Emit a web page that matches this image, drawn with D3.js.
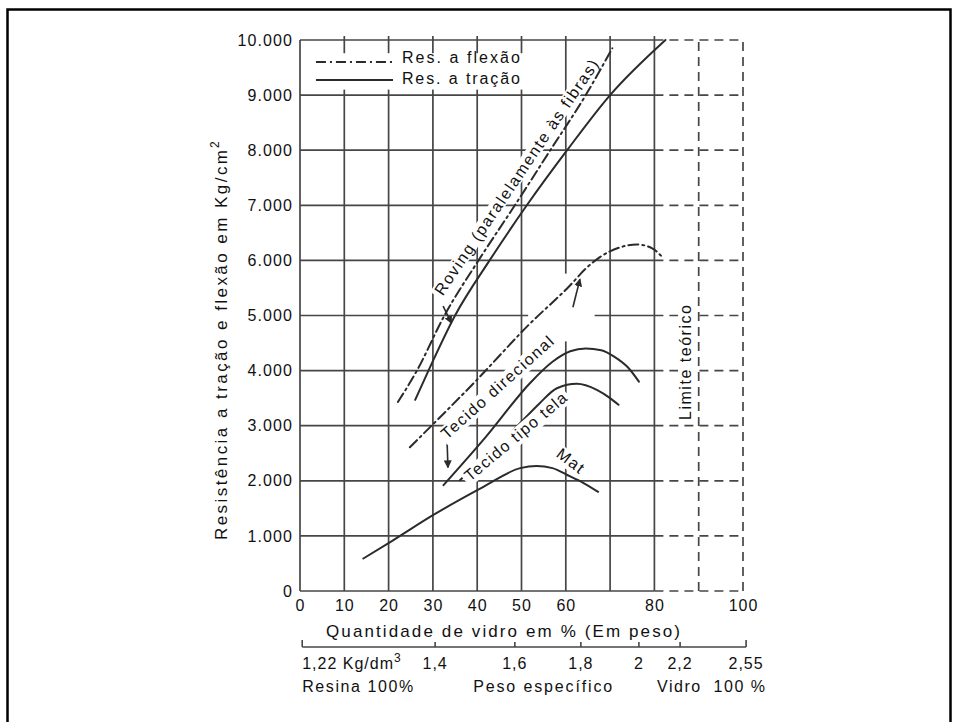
<!DOCTYPE html>
<html>
<head>
<meta charset="utf-8">
<script src="https://cdn.jsdelivr.net/npm/d3@7"></script>
<style>
  html, body { margin: 0; padding: 0; background: #fff; }
  svg { display: block; }
  text { font-family: Arial, "Liberation Sans", Helvetica, sans-serif; fill: #111; }
</style>
</head>
<body>
<svg id="chart" width="959" height="722"></svg>
<script>
// ---- Axis ticks -------------------------------------------------------
const glassTicks = [0, 10, 20, 30, 40, 50, 60, 70, 80, 90, 100];
const glassLabels = ["0", "10", "20", "30", "40", "50", "60", "", "80", "", "100"];
const strengthTicks = [0, 1000, 2000, 3000, 4000, 5000, 6000, 7000, 8000, 9000, 10000];
const strengthLabels = ["0", "1.000", "2.000", "3.000", "4.000", "5.000", "6.000", "7.000", "8.000", "9.000", "10.000"];

// Specific weight scale under the glass-content axis (glass % where each density falls)
const densityAtGlass = [0.5, 30.5, 48.5, 63.4, 76.5, 85.8, 100.7];
const densityLabels = ["1,22", "1,4", "1,6", "1,8", "2", "2,2", "2,55"];

// ---- Series: glass content (%) vs strength (kg/cm²) --------------------
const rovingTracaoX = [26, 29, 35, 42.8, 51.2, 60.3, 70, 82.5];
const rovingTracaoY = [3470, 4000, 5000, 6000, 7000, 8000, 9000, 10000];

const rovingFlexaoX = [22.1, 26.4, 32.6, 40.3, 48.5, 56.5, 64.5, 70.5];
const rovingFlexaoY = [3430, 4000, 5000, 6000, 7000, 8000, 9000, 9850];

const direcionalFlexaoX = [24.8, 39.9, 51.5, 61, 64.5, 67.7, 72, 76, 79.5, 82];
const direcionalFlexaoY = [2610, 3830, 4820, 5550, 5850, 6060, 6230, 6290, 6220, 6040];

const direcionalTracaoX = [32.4, 42, 52, 57, 61, 64.5, 68, 71, 74, 76.5];
const direcionalTracaoY = [1920, 2800, 3780, 4160, 4350, 4400, 4370, 4250, 4060, 3800];

const telaTracaoX = [36.1, 42, 48.9, 54, 58, 62.5, 67, 70, 71.9];
const telaTracaoY = [2010, 2450, 2980, 3400, 3680, 3760, 3650, 3500, 3380];

const matTracaoX = [14.3, 21.1, 30.1, 41.4, 49.7, 53.4, 57, 60.2, 64, 67.3];
const matTracaoY = [590, 925, 1380, 1890, 2230, 2270, 2230, 2110, 1960, 1800];

const seriesList = [
  { xs: rovingFlexaoX, ys: rovingFlexaoY, flex: true },
  { xs: rovingTracaoX, ys: rovingTracaoY, flex: false },
  { xs: direcionalFlexaoX, ys: direcionalFlexaoY, flex: true },
  { xs: direcionalTracaoX, ys: direcionalTracaoY, flex: false },
  { xs: telaTracaoX, ys: telaTracaoY, flex: false },
  { xs: matTracaoX, ys: matTracaoY, flex: false }
];

// ---- Setup ------------------------------------------------------------
const svg = d3.select("#chart");
const x = d3.scaleLinear().domain([0, 100]).range([300, 743]);
const y = d3.scaleLinear().domain([0, 10000]).range([591, 40]);

const INK = "#111";
const GRID = "#464646";
const CURVE = "#2b2b2b";
const DASHDOT = "10,4,2,4";

// Page frame
svg.append("path")
  .attr("d", "M7.5,722 V9.5 H950.5 V722")
  .attr("fill", "none").attr("stroke", "#000").attr("stroke-width", 2.5);

// ---- Grid ---------------------------------------------------------------
const grid = svg.append("g").attr("stroke", GRID).attr("stroke-width", 1.7).attr("fill", "none");

// vertical lines: solid up to 80 %, dashed beyond (theoretical limit zone)
glassTicks.forEach(t => {
  grid.append("line")
    .attr("x1", x(t)).attr("x2", x(t))
    .attr("y1", y(0)).attr("y2", y(10000))
    .attr("stroke-dasharray", t > 80 ? "9,6" : null);
  if (t > 0 && t <= 80) {
    grid.append("line")
      .attr("x1", x(t)).attr("x2", x(t))
      .attr("y1", y(10000)).attr("y2", y(10000) - 4);
  }
});
// horizontal lines
strengthTicks.forEach(t => {
  grid.append("line")
    .attr("x1", x(0)).attr("x2", x(80))
    .attr("y1", y(t)).attr("y2", y(t));
  grid.append("line")
    .attr("x1", x(80)).attr("x2", x(100))
    .attr("y1", y(t)).attr("y2", y(t))
    .attr("stroke-dasharray", "9,6");
});

// blank patch in the grid around the directional fabric flexural branch
svg.append("rect")
  .attr("x", x(51.5)).attr("y", y(5760))
  .attr("width", x(66.5) - x(51.5)).attr("height", y(4530) - y(5760))
  .attr("fill", "#fff");

// ---- Legend -----------------------------------------------------------
svg.append("rect")
  .attr("x", x(1.8)).attr("y", y(9760))
  .attr("width", x(52.2) - x(1.8)).attr("height", y(9100) - y(9760))
  .attr("fill", "#fff");
const legendRows = [
  { label: "Res. a flexão", flex: true, v: 9600, base: 9575 },
  { label: "Res. a tração", flex: false, v: 9275, base: 9210 }
];
legendRows.forEach(r => {
  svg.append("line")
    .attr("x1", x(3.6)).attr("x2", x(21))
    .attr("y1", y(r.v)).attr("y2", y(r.v))
    .attr("stroke", CURVE).attr("stroke-width", 2)
    .attr("stroke-dasharray", r.flex ? DASHDOT : null);
  svg.append("text")
    .attr("x", x(23)).attr("y", y(r.base))
    .attr("font-size", 16)
    .attr("textLength", 118).attr("lengthAdjust", "spacing")
    .text(r.label);
});

// ---- Curves -------------------------------------------------------------
const line = d3.line()
  .x(d => x(d[0])).y(d => y(d[1]))
  .curve(d3.curveMonotoneX);

seriesList.forEach(s => {
  const pts = s.xs.map((v, i) => [v, s.ys[i]]);
  svg.append("path")
    .attr("d", line(pts))
    .attr("fill", "none")
    .attr("stroke", CURVE)
    .attr("stroke-width", 2)
    .attr("stroke-linecap", "round")
    .attr("stroke-dasharray", s.flex ? DASHDOT : null);
});

// small pointer arrows from labels to curves
svg.append("defs").append("marker")
  .attr("id", "head").attr("viewBox", "0 0 10 10")
  .attr("refX", 9).attr("refY", 5)
  .attr("markerWidth", 5).attr("markerHeight", 6)
  .attr("orient", "auto")
  .append("path").attr("d", "M0,0 L10,5 L0,10 Z").attr("fill", CURVE);

const pointers = [
  [[32.3, 5170], [34.2, 4860]],
  [[33.2, 2720], [33.4, 2240]],
  [[61.6, 5150], [63.2, 5660]]
];
pointers.forEach(p => {
  svg.append("line")
    .attr("x1", x(p[0][0])).attr("y1", y(p[0][1]))
    .attr("x2", x(p[1][0])).attr("y2", y(p[1][1]))
    .attr("stroke", CURVE).attr("stroke-width", 1.6)
    .attr("marker-end", "url(#head)");
});

// ---- Curve labels (rotated along the curves) ----------------------------
function rotatedLabel(str, gx, gy, angle, len, size, below) {
  const g = svg.append("g")
    .attr("transform", `translate(${x(gx)},${y(gy)}) rotate(${angle})`);
  g.append("rect")
    .attr("x", -3).attr("y", -size * 0.82)
    .attr("width", len + 6).attr("height", size * 0.82 + below)
    .attr("fill", "#fff");
  g.append("text")
    .attr("x", 0).attr("y", 0)
    .attr("font-size", size)
    .attr("textLength", len).attr("lengthAdjust", "spacing")
    .text(str);
}
rotatedLabel("Roving (paralelamente às fibras)", 32.2, 5345, -56, 280, 16, 1.5);
rotatedLabel("Tecido direcional", 33.2, 2740, -42, 145, 16, 4);
rotatedLabel("Tecido tipo tela", 38.4, 1978, -40, 128, 16, 4);
rotatedLabel("Mat", 57.6, 2450, 37, 30, 16, 4);
rotatedLabel("Limite teórico", 88.3, 3103, -90, 115, 16, 4);

// ---- Axes ---------------------------------------------------------------
const yAxis = svg.append("g")
  .attr("transform", `translate(${x(0)},0)`)
  .call(d3.axisLeft(y).tickValues(strengthTicks)
    .tickFormat((d, i) => strengthLabels[i]).tickSize(0).tickPadding(7));
yAxis.select(".domain").remove();
yAxis.selectAll("text")
  .attr("font-size", 16).attr("fill", INK)
  .style("font-family", "Arial, 'Liberation Sans', sans-serif")
  .style("letter-spacing", "1.1px");

const xAxis = svg.append("g")
  .attr("transform", `translate(0,${y(0)})`)
  .call(d3.axisBottom(x).tickValues(glassTicks)
    .tickFormat((d, i) => glassLabels[i]).tickSize(0).tickPadding(8.5));
xAxis.select(".domain").remove();
xAxis.selectAll("text")
  .attr("font-size", 16).attr("fill", INK)
  .style("font-family", "Arial, 'Liberation Sans', sans-serif")
  .style("letter-spacing", "1px");

// y title
const yTitle = svg.append("g").attr("transform", "translate(227,540) rotate(-90)");
yTitle.append("text")
  .attr("x", 0).attr("y", 0).attr("font-size", 17)
  .attr("textLength", 390).attr("lengthAdjust", "spacing")
  .text("Resistência a tração e flexão em Kg/cm");
yTitle.append("text")
  .attr("x", 392).attr("y", -8).attr("font-size", 12)
  .text("2");

// x title
svg.append("text")
  .attr("x", 503).attr("y", 637)
  .attr("text-anchor", "middle").attr("font-size", 17)
  .attr("textLength", 354).attr("lengthAdjust", "spacing")
  .text("Quantidade de vidro em % (Em peso)");

// ---- Specific weight scale ------------------------------------------
const densY = 647;
const dens = svg.append("g").attr("stroke", GRID).attr("stroke-width", 1.6);
dens.append("line")
  .attr("x1", x(densityAtGlass[0])).attr("x2", x(densityAtGlass[densityAtGlass.length - 1]))
  .attr("y1", densY).attr("y2", densY);
densityAtGlass.forEach((g, i) => {
  const ends = i === 0 || i === densityAtGlass.length - 1;
  dens.append("line")
    .attr("x1", x(g)).attr("x2", x(g))
    .attr("y1", densY).attr("y2", densY - (ends ? 7 : 5));
});
densityAtGlass.forEach((g, i) => {
  const t = svg.append("text")
    .attr("y", densY + 21.5).attr("font-size", 16)
    .style("letter-spacing", "1px");
  if (i === 0) {
    t.attr("x", x(g)).attr("text-anchor", "start");
    t.append("tspan").text(densityLabels[i] + " Kg/dm");
    t.append("tspan").attr("dy", -7).attr("font-size", 12).text("3");
  } else {
    t.attr("x", x(g)).attr("text-anchor", "middle").text(densityLabels[i]);
  }
});

const footRow = [
  { txt: "Resina 100%", at: 0.5, len: 111 },
  { txt: "Peso específico", at: 39.1, len: 139 },
  { txt: "Vidro  100 %", at: 80.6, len: 108 }
];
footRow.forEach(f => {
  svg.append("text")
    .attr("x", x(f.at)).attr("y", 692)
    .attr("font-size", 16)
    .style("white-space", "pre")
    .attr("textLength", f.len).attr("lengthAdjust", "spacing")
    .text(f.txt);
});
</script>
</body>
</html>
